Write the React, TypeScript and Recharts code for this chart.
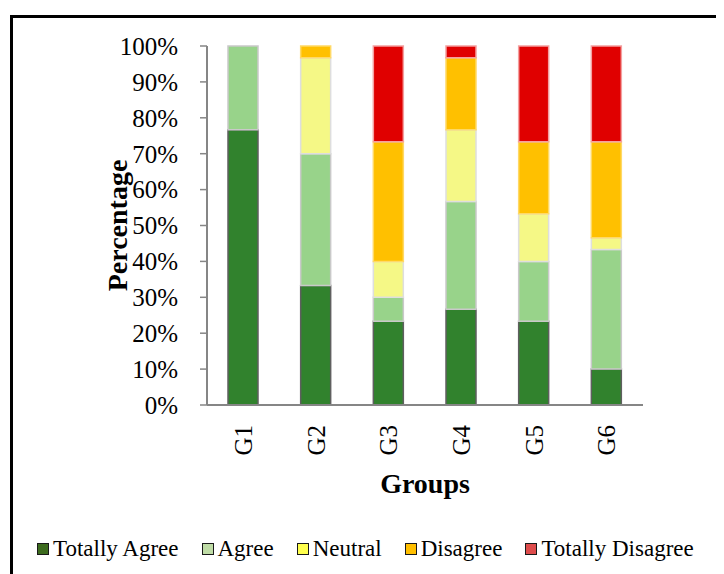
import React from "react";
import { BarChart, Bar, XAxis, YAxis, Label } from "recharts";

// values in percent
const groups = ["G1", "G2", "G3", "G4", "G5", "G6"];
const totallyAgree = [76.7, 33.3, 23.3, 26.7, 23.3, 10];
const agree = [23.3, 36.7, 6.7, 30, 16.7, 33.3];
const neutral = [0, 26.7, 10, 20, 13.3, 3.3];
const disagree = [0, 3.3, 33.3, 20, 20, 26.7];
const totallyDisagree = [0, 0, 26.7, 3.3, 26.7, 26.7];
const yTicks = [0, 10, 20, 30, 40, 50, 60, 70, 80, 90, 100];
const edgeTicks = [0, 1, 2, 3, 4, 5, 6];

const series = [
  { key: "Totally Agree", values: totallyAgree, fill: "#31822d", stroke: "#5f5f5f", icon: "#3d6b1e" },
  { key: "Agree", values: agree, fill: "#98d38a", stroke: "#c9c9c9", icon: "#bfdca6" },
  { key: "Neutral", values: neutral, fill: "#f5f886", stroke: "#dedede", icon: "#ffff4d" },
  { key: "Disagree", values: disagree, fill: "#ffc000", stroke: "#ffd966", icon: "#ffbf00" },
  { key: "Totally Disagree", values: totallyDisagree, fill: "#e00000", stroke: "#f4a0a0", icon: "#de4c4c" },
];

const data = groups.map((g, i) => {
  const row: Record<string, string | number> = { group: g };
  series.forEach((s) => (row[s.key] = s.values[i]));
  return row;
});

const FONT = "'Liberation Serif', 'Times New Roman', serif";
const AXIS = "#868686";

function GroupTick({ x, y, payload }: any) {
  return (
    <text
      transform={`translate(${x},${y + 11}) rotate(-90)`}
      textAnchor="end"
      dominantBaseline="central"
      fontFamily={FONT}
      fontSize={25}
      fill="#000"
    >
      {payload.value}
    </text>
  );
}

export default function App() {
  return (
    <div style={{ position: "relative", width: 716, height: 566 }}>
      {/* frame: only top and left edges show in the reference */}
      <div
        style={{
          position: "absolute",
          left: 2,
          top: 7,
          width: 714,
          height: 559,
          borderTop: "3px solid #000",
          borderLeft: "3px solid #000",
          boxSizing: "border-box",
        }}
      />
      <BarChart
        width={716}
        height={566}
        data={data}
        margin={{ top: 38, right: 81, left: 119, bottom: 69 }}
        barSize={30}
        style={{ position: "absolute", left: 0, top: 0 }}
      >
        <XAxis
          xAxisId={0}
          type="number"
          domain={[0, 6]}
          ticks={edgeTicks}
          tick={false}
          axisLine={false}
          tickLine={{ stroke: AXIS, strokeWidth: 1.5 }}
          tickSize={7}
          height={0}
        />
        <XAxis
          xAxisId="cat"
          dataKey="group"
          tick={<GroupTick />}
          tickLine={false}
          axisLine={{ stroke: AXIS, strokeWidth: 2 }}
          tickSize={7}
          height={100}
          interval={0}
        >
          <Label
            content={({ viewBox }: any) => (
              <text
                x={viewBox.x + viewBox.width / 2}
                y={viewBox.y + 88}
                textAnchor="middle"
                fontFamily={FONT}
                fontWeight="bold"
                fontSize={28}
                fill="#000"
              >
                Groups
              </text>
            )}
          />
        </XAxis>
        <YAxis
          domain={[0, 100]}
          ticks={yTicks}
          tickFormatter={(v) => `${v}%`}
          width={80}
          tickSize={7}
          tickMargin={22}
          axisLine={{ stroke: AXIS, strokeWidth: 2 }}
          tickLine={{ stroke: AXIS, strokeWidth: 1.5 }}
          tick={{ fill: "#000", fontFamily: FONT, fontSize: 25 }}
          interval={0}
        >
          <Label
            content={({ viewBox }: any) => {
              const cx = viewBox.x - 10;
              const cy = viewBox.y + viewBox.height / 2;
              return (
                <text
                  transform={`translate(${cx},${cy}) rotate(-90)`}
                  textAnchor="middle"
                  dominantBaseline="central"
                  fontFamily={FONT}
                  fontWeight="bold"
                  fontSize={28}
                  fill="#000"
                >
                  Percentage
                </text>
              );
            }}
          />
        </YAxis>
        {series.map((s) => (
          <Bar
            key={s.key}
            xAxisId="cat"
            dataKey={s.key}
            stackId="a"
            fill={s.fill}
            stroke={s.stroke}
            strokeWidth={1.5}
            isAnimationActive={false}
          />
        ))}
      </BarChart>
      {/* legend */}
      <div
        style={{
          position: "absolute",
          left: 29,
          top: 528,
          display: "flex",
          alignItems: "center",
          gap: 23,
          fontFamily: FONT,
          fontSize: 23,
          color: "#000",
          whiteSpace: "nowrap",
        }}
      >
        {series.map((s) => (
          <div key={s.key} style={{ display: "flex", alignItems: "center" }}>
            <span
              style={{
                display: "inline-block",
                width: 10,
                height: 10,
                background: s.icon,
                border: "1.5px solid #1a1a1a",
                marginRight: 4,
              }}
            />
            <span>{s.key}</span>
          </div>
        ))}
      </div>
    </div>
  );
}
